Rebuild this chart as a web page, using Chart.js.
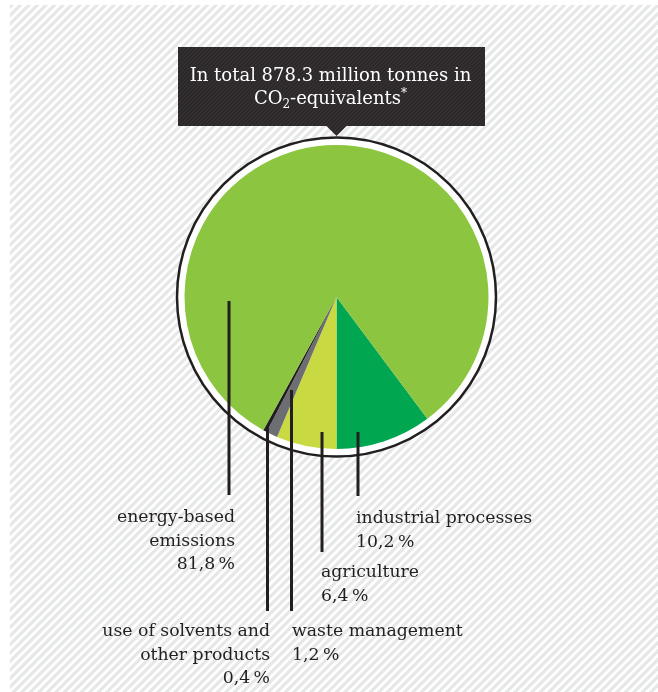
<!DOCTYPE html>
<html>
<head>
<meta charset="utf-8">
<script src="https://cdn.jsdelivr.net/npm/chart.js@4"></script>
<style>
  html, body { margin: 0; padding: 0; background: #fff; }
  canvas { display: block; }
</style>
</head>
<body>
<canvas id="chart" width="658" height="692"></canvas>
<script>
// data, in drawing order clockwise starting with industrial processes
const categories = ["industrial processes", "agriculture", "waste management", "use of solvents and other products", "energy-based emissions"];
const labelLines = [["industrial processes"], ["agriculture"], ["waste management"], ["use of solvents and", "other products"], ["energy-based", "emissions"]];
const shares = [10.2, 6.4, 1.2, 0.4, 81.8];
const sliceColors = ["#00a650", "#c8d942", "#6d6e71", "#231f20", "#8cc53f"];
const titleLine1 = "In total 878.3 million tonnes in";
const titleLine2 = ["CO", "2", "-equivalents", "*"];

// callout layout (offsets from pie centre): line x, line top, line bottom, text x, first baseline, align
const callouts = [
    { dx: 21.5, top: 135, bottom: 199, tx: 19.5, ty: 226, align: "left" },
    { dx: -14.5, top: 135, bottom: 255, tx: -15.5, ty: 280, align: "left" },
    { dx: -45, top: 93, bottom: 314, tx: -44.5, ty: 339, align: "left" },
    { dx: -69, top: 130, bottom: 314, tx: -66.5, ty: 339, align: "right" },
    { dx: -107.5, top: 4, bottom: 198, tx: -101.5, ty: 225, align: "right" }
];

const FONT = "17.3px 'DejaVu Serif'";
const TITLE_FONT = "18px 'DejaVu Serif'";
const SMALL_FONT = "12px 'DejaVu Serif'";
const INK = "#231f20";
const lineGap = 23.5;

function fmtPct(v) {
    return v.toFixed(1).replace(".", ",") + "\u2009%";
}

const backdrop = {
    id: "backdrop",
    beforeDraw(chart) {
        const ctx = chart.ctx;
        const W = chart.width, H = chart.height;
        ctx.save();
        ctx.fillStyle = "#fff";
        ctx.fillRect(0, 0, W, H);
        ctx.beginPath();
        ctx.rect(10, 5, W - 10, H - 5);
        ctx.clip();
        ctx.strokeStyle = "#e6e7e8";
        ctx.lineWidth = 3.2;
        for (let k = 0; k < W + H + 20; k += 8.5) {
            ctx.beginPath();
            ctx.moveTo(k, 0);
            ctx.lineTo(k - H - 10, H + 10);
            ctx.stroke();
        }
        ctx.restore();
    },
    beforeDatasetsDraw(chart) {
        const arc = chart.getDatasetMeta(0).data[0];
        const ctx = chart.ctx;
        ctx.save();
        ctx.beginPath();
        ctx.arc(arc.x, arc.y, arc.outerRadius + 7.5, 0, Math.PI * 2);
        ctx.fillStyle = "#fff";
        ctx.fill();
        ctx.lineWidth = 2.5;
        ctx.strokeStyle = INK;
        ctx.stroke();
        ctx.restore();
    },
    afterDatasetsDraw(chart) {
        const arc = chart.getDatasetMeta(0).data[0];
        const cx = arc.x, cy = arc.y;
        const ctx = chart.ctx;
        ctx.save();

        // title box
        const bx = 178, bw = 307, by = 47, bh = 79;
        ctx.fillStyle = "#2a2627";
        ctx.beginPath();
        ctx.rect(bx, by, bw, bh);
        ctx.moveTo(cx - 10, by + bh);
        ctx.lineTo(cx, by + bh + 10);
        ctx.lineTo(cx + 10, by + bh);
        ctx.fill();
        ctx.save();
        ctx.clip();
        ctx.strokeStyle = "rgba(255,255,255,0.06)";
        ctx.lineWidth = 1.5;
        for (let k = bx; k < bx + bw + bh + 20; k += 4) {
            ctx.beginPath();
            ctx.moveTo(k, by);
            ctx.lineTo(k - bh - 20, by + bh + 20);
            ctx.stroke();
        }
        ctx.restore();

        ctx.fillStyle = "#fff";
        ctx.font = TITLE_FONT;
        ctx.textBaseline = "alphabetic";
        ctx.textAlign = "center";
        const tcx = bx + bw / 2 - 1;
        ctx.fillText(titleLine1, tcx, 81);
        // second line with subscript and superscript
        const w0 = ctx.measureText(titleLine2[0]).width;
        const w2 = ctx.measureText(titleLine2[2]).width;
        ctx.font = SMALL_FONT;
        const w1 = ctx.measureText(titleLine2[1]).width;
        const w3 = ctx.measureText(titleLine2[3]).width;
        let x = tcx - (w0 + w1 + w2 + w3) / 2;
        ctx.textAlign = "left";
        ctx.font = TITLE_FONT;
        ctx.fillText(titleLine2[0], x, 104); x += w0;
        ctx.font = SMALL_FONT;
        ctx.fillText(titleLine2[1], x, 108); x += w1;
        ctx.font = TITLE_FONT;
        ctx.fillText(titleLine2[2], x, 104); x += w2;
        ctx.font = SMALL_FONT;
        ctx.fillText(titleLine2[3], x, 97);

        // callouts
        ctx.strokeStyle = INK;
        ctx.lineWidth = 3;
        ctx.fillStyle = INK;
        ctx.font = FONT;
        callouts.forEach((c, i) => {
            ctx.beginPath();
            ctx.moveTo(cx + c.dx, cy + c.top);
            ctx.lineTo(cx + c.dx, cy + c.bottom);
            ctx.stroke();
            ctx.textAlign = c.align;
            const lines = labelLines[i].concat([fmtPct(shares[i])]);
            lines.forEach((t, j) => {
                ctx.fillText(t, cx + c.tx, cy + c.ty + j * lineGap);
            });
        });
        ctx.restore();
    }
};

const total = shares.reduce((a, b) => a + b, 0);

new Chart(document.getElementById("chart"), {
    type: "pie",
    data: {
        labels: categories,
        datasets: [{
            data: shares,
            backgroundColor: sliceColors,
            borderWidth: 0,
            hoverOffset: 0
        }]
    },
    options: {
        responsive: false,
        animation: false,
        events: [],
        rotation: 180 - shares[0] / total * 360,
        layout: {
            padding: { left: 184.5, right: 169.5, top: 145, bottom: 243 }
        },
        plugins: {
            legend: { display: false },
            tooltip: { enabled: false }
        }
    },
    plugins: [backdrop]
});
</script>
</body>
</html>
